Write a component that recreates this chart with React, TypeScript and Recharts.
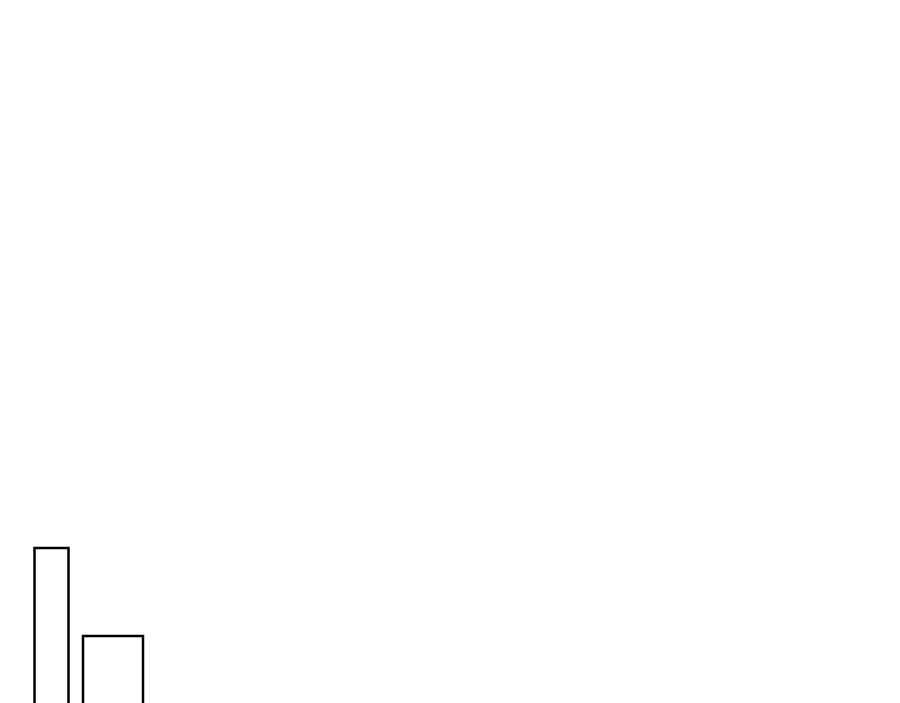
import { BarChart, Bar, XAxis, YAxis } from "recharts";

// two categories, each drawn by its own series so the widths can differ
const categories = ["A", "B"];
const firstValues = [110, null];
const secondValues = [null, 66];

const data = categories.map((name, i) => ({
    name,
    first: firstValues[i],
    second: secondValues[i],
}));

export default function App() {
    return (
        <div style={{ width: 884, height: 695, overflow: "hidden", background: "#fff" }}>
            <BarChart
                width={884}
                height={760}
                data={data}
                margin={{ top: 0, right: 748.5, bottom: 0, left: 12.5 }}
            >
                <XAxis xAxisId="a" dataKey="name" hide />
                <XAxis xAxisId="b" dataKey="name" hide />
                <YAxis domain={[0, 380]} hide />
                <Bar
                    xAxisId="a"
                    dataKey="first"
                    barSize={34}
                    fill="#fff"
                    stroke="#000"
                    strokeWidth={2.5}
                    isAnimationActive={false}
                />
                <Bar
                    xAxisId="b"
                    dataKey="second"
                    barSize={60}
                    fill="#fff"
                    stroke="#000"
                    strokeWidth={2.5}
                    isAnimationActive={false}
                />
            </BarChart>
        </div>
    );
}
